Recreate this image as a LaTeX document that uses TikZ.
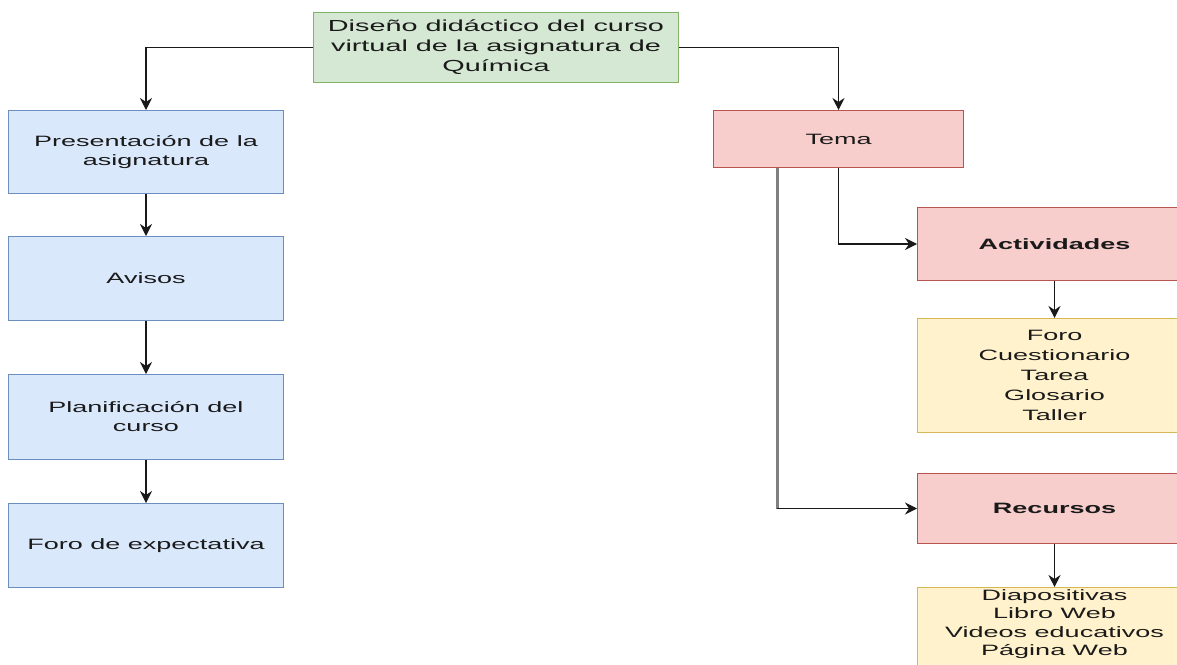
\documentclass[tikz,border=0pt]{standalone}
\usepackage{fontspec}
\setmainfont{Liberation Sans}[FakeStretch=1.8]
\usetikzlibrary{arrows.meta,calc}
\definecolor{gfill}{HTML}{D5E8D4}\definecolor{gdraw}{HTML}{82B366}
\definecolor{bfill}{HTML}{DAE8FC}\definecolor{bdraw}{HTML}{6C8EBF}
\definecolor{rfill}{HTML}{F8CECC}\definecolor{rdraw}{HTML}{B85450}
\definecolor{yfill}{HTML}{FFF2CC}\definecolor{ydraw}{HTML}{D6B656}
\definecolor{txt}{HTML}{1A1A1A}
\tikzset{
  box/.style={draw, line width=1pt, anchor=north west, align=center, inner sep=0pt,
    text=txt, font=\fontsize{15}{19}\selectfont},
  gbox/.style={box, fill=gfill, draw=gdraw},
  bbox/.style={box, fill=bfill, draw=bdraw},
  rbox/.style={box, fill=rfill, draw=rdraw},
  ybox/.style={box, fill=yfill, draw=ydraw},
  arr/.style={draw=black!90, line width=1.3pt, -{Stealth[length=12pt,width=12pt,inset=4pt]}},
  trunk/.style={draw=black!50, line width=3pt}
}
\begin{document}
\begin{tikzpicture}[x=1pt,y=-1pt]
\useasboundingbox (0,0) rectangle (1177,664);
\clip (0,0) rectangle (1177,664);
\fill[white] (0,0) rectangle (1177,664);
% top
\node[gbox, minimum width=365pt, minimum height=70pt, font=\fontsize{16}{20}\selectfont] (top) at (313,12)
  {Diseño didáctico del curso\\virtual de la asignatura de\\Química};
% left column
\node[bbox, minimum width=275pt, minimum height=83pt] (pres) at (8,110) {Presentación de la\\asignatura};
\node[bbox, minimum width=275pt, minimum height=84pt] (avis) at (8,236) {Avisos};
\node[bbox, minimum width=275pt, minimum height=85pt] (plan) at (8,374) {Planificación del\\curso};
\node[bbox, minimum width=275pt, minimum height=84pt] (foro) at (8,503) {Foro de expectativa};
% right column
\node[rbox, minimum width=250pt, minimum height=57pt] (tema) at (713,110) {Tema};
\node[rbox, minimum width=274pt, minimum height=73pt, font=\fontsize{15}{19}\selectfont\bfseries] (act) at (917,207) {Actividades};
\node[ybox, minimum width=274pt, minimum height=114pt, font=\fontsize{15}{20}\selectfont] (lact) at (917,318) {Foro\\Cuestionario\\Tarea\\Glosario\\Taller};
\node[rbox, minimum width=274pt, minimum height=70pt, font=\fontsize{15}{19}\selectfont\bfseries] (rec) at (917,473) {Recursos};
\node[ybox, minimum width=274pt, minimum height=110pt] (lrec) at (917,587) {};
\node[anchor=north, align=center, inner sep=0pt, text=txt, font=\fontsize{15}{18.5}\selectfont] (lrect) at ($(lrec.north)+(0,2)$)
  {Diapositivas\\Libro Web\\Videos educativos\\Página Web};
% connectors
\draw[arr] (top.west) -| (pres.north);
\draw[arr] (pres.south) -- (avis.north);
\draw[arr] (avis.south) -- (plan.north);
\draw[arr] (plan.south) -- (foro.north);
\draw[arr] (top.east) -| (tema.north);
\draw[arr] (tema.south) |- (act.west);
\draw[arr] (act.south) -- (lact.north);
\coordinate (tsplit) at ($(tema.south west)!0.256!(tema.south east)$);
\coordinate (bend) at (tsplit |- rec.west);
\draw[trunk] (tsplit) -- (bend);
\draw[arr] (bend) -- (rec.west);
\draw[arr] (rec.south) -- (lrec.north);
\end{tikzpicture}
\end{document}
